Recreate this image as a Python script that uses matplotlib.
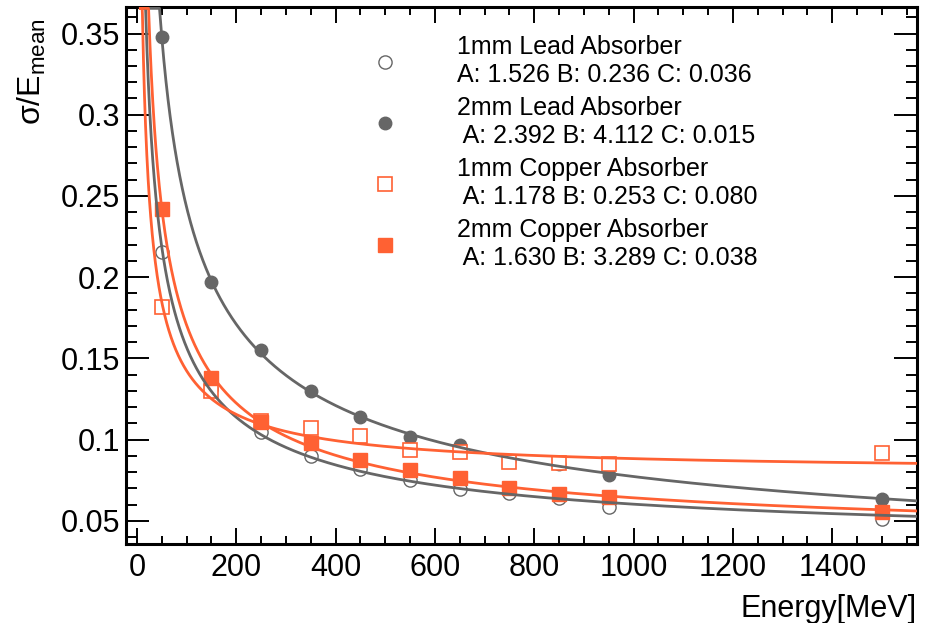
import matplotlib
matplotlib.use('Agg')
import matplotlib.pyplot as plt
from matplotlib.ticker import MultipleLocator, FormatStrFormatter
import numpy as np

plt.rcParams['font.family'] = ['Liberation Sans', 'DejaVu Sans']
plt.rcParams['mathtext.fontset'] = 'custom'
plt.rcParams['mathtext.rm'] = 'Liberation Sans'
plt.rcParams['mathtext.it'] = 'Liberation Sans:italic'

# beam energies [MeV]
energy = [50, 150, 250, 350, 450, 550, 650, 750, 850, 950, 1500]

# sigma/E_mean
lead_1mm = [0.2156, 0.131, 0.1048, 0.0898, 0.0816, 0.0751, 0.0695, 0.0672, 0.0640, 0.0587, 0.0510]
lead_2mm = [0.348, 0.197, 0.155, 0.130, 0.1137, 0.1017, 0.0966, 0.0869, 0.0851, 0.0779, 0.0634]
copper_1mm = [0.1818, 0.130, 0.1116, 0.1069, 0.1022, 0.0935, 0.0925, 0.0860, 0.0855, 0.0847, 0.0917]
copper_2mm = [0.2419, 0.1377, 0.1110, 0.0980, 0.0874, 0.0812, 0.0761, 0.0703, 0.0665, 0.0649, 0.0552]

# fit parameters  sigma/E = sqrt(A^2/E + B^2/E^2 + C^2)
fit_A = [1.526, 2.392, 1.178, 1.630]
fit_B = [0.236, 4.112, 0.253, 3.289]
fit_C = [0.036, 0.015, 0.080, 0.038]

names = ['1mm Lead Absorber', '2mm Lead Absorber', '1mm Copper Absorber', '2mm Copper Absorber']
par_text = ['A: 1.526 B: 0.236 C: 0.036', ' A: 2.392 B: 4.112 C: 0.015',
            ' A: 1.178 B: 0.253 C: 0.080', ' A: 1.630 B: 3.289 C: 0.038']

gray = '#666666'
orange = '#ff6133'

xlim = (-22, 1570)
ylim = (0.0355, 0.3665)

fig = plt.figure(figsize=(9.26, 6.23), dpi=100)
ax = fig.add_axes([0.136, 0.1263, 0.854, 0.8629])

series = [lead_1mm, lead_2mm, copper_1mm, copper_2mm]
styles = [
    dict(marker='o', ms=9.5, mfc='white', mec=gray, mew=1.0),
    dict(marker='o', ms=9.0, mfc=gray, mec=gray, mew=1.0),
    dict(marker='s', ms=9.5, mfc='white', mec=orange, mew=1.2),
    dict(marker='s', ms=9.5, mfc=orange, mec=orange, mew=1.0),
]
colors = [gray, gray, orange, orange]

handles = []
for vals, st in zip(series, styles):
    h, = ax.plot(energy, vals, ls='none', zorder=2, **st)
    handles.append(h)

E = np.linspace(7, xlim[1], 3000)
for A, B, C, col in zip(fit_A, fit_B, fit_C, colors):
    f = np.sqrt(A**2 / E + B**2 / E**2 + C**2)
    f = np.minimum(f, ylim[1] - 0.001)
    ax.plot(E, f, color=col, lw=2.0, zorder=3)

ax.set_xlim(*xlim)
ax.set_ylim(*ylim)

ax.xaxis.set_major_locator(MultipleLocator(200))
ax.xaxis.set_minor_locator(MultipleLocator(50))
ax.yaxis.set_major_locator(MultipleLocator(0.05))
ax.yaxis.set_minor_locator(MultipleLocator(0.01))
ax.yaxis.set_major_formatter(FormatStrFormatter('%g'))

ax.tick_params(which='both', direction='in', top=True, right=True, width=1.4)
ax.tick_params(axis='x', which='major', length=11.5, labelsize=22, pad=6)
ax.tick_params(axis='x', which='minor', length=5.8)
ax.tick_params(axis='y', which='major', length=16.5, labelsize=22, pad=4)
ax.tick_params(axis='y', which='minor', length=8)
for sp in ax.spines.values():
    sp.set_linewidth(2.2)

ax.set_xlabel('Energy[MeV]', fontsize=22, loc='right', labelpad=8)
ax.set_ylabel(r'σ/E$_{\rm mean}$', fontsize=23, loc='top')
ax.yaxis.set_label_coords(-0.098, 0.979)

labels = [n + '\n' + p for n, p in zip(names, par_text)]
ax.legend(handles, labels, loc='upper left', bbox_to_anchor=(0.299, 0.966),
          frameon=False, fontsize=18, handlelength=1.0, handletextpad=2.38,
          labelspacing=0.37, borderaxespad=0)

plt.savefig('out.png', dpi=100)
